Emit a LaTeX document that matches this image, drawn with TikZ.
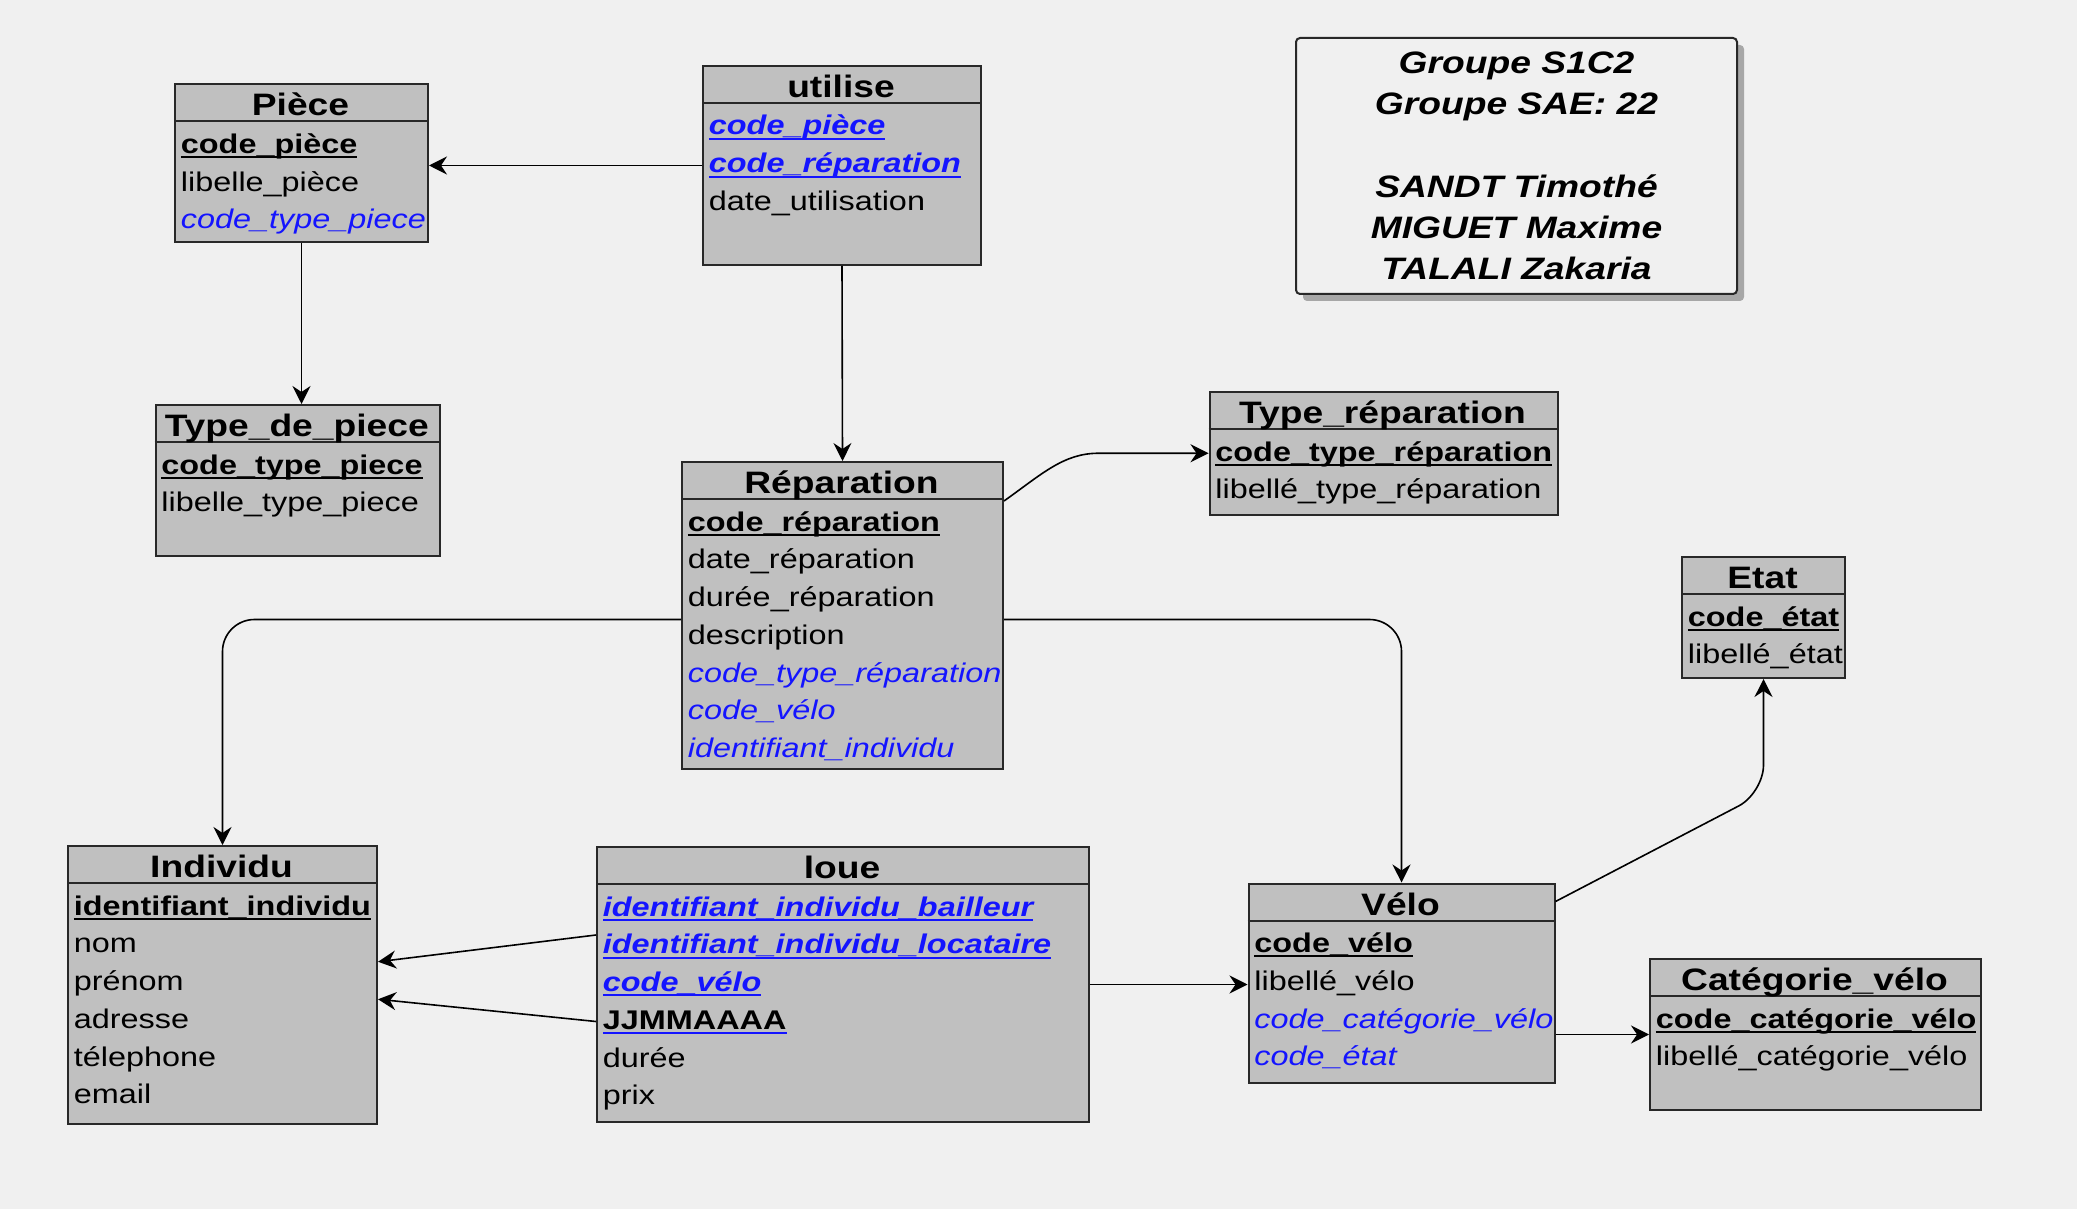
\documentclass[tikz,border=0pt]{standalone}
\usepackage{fontspec}
\setmainfont{Liberation Sans}[FakeStretch=1.2]
\usepackage{xcolor}
\usepackage{tikz}
\usetikzlibrary{arrows.meta,calc,shadows}

\definecolor{bgcol}{RGB}{240,240,240}
\definecolor{boxgray}{RGB}{192,192,192}
\definecolor{boxline}{RGB}{40,40,40}
\definecolor{fkblue}{RGB}{20,20,255}

\newcommand\keyline[1]{\sbox0{#1}\rlap{\rule[-2.4pt]{\wd0}{1pt}}\usebox0}
\newcommand\pk[1]{\keyline{\bfseries #1}}
\newcommand\fk[1]{{\color{fkblue}\itshape #1}}
\newcommand\pfk[1]{{\color{fkblue}\keyline{\bfseries\itshape #1}}}
\newcommand\pkb[1]{{\color{fkblue}\keyline{\color{black}\bfseries #1}}}

\newcommand\mcdtable[7]{%
  \node[tbl,minimum width=#4*0.5pt,minimum height=#5*0.5pt] (#1) at (#2,#3) {};
  \draw[boxline,line width=1pt] ([yshift=-19pt]#1.north west) -- ([yshift=-19pt]#1.north east);
  \node[ttl] (#1-t) at ({#2+#4/2},{#3+32.5}) {#6};
  \foreach \row [count=\rowno] in {#7}
    \node[att] (#1-\rowno) at ({#2+6.5},{#3+70+(\rowno-1)*37.75}) {\row};
}

\begin{document}
\begin{tikzpicture}[x=0.5pt,y=-0.5pt,
    tbl/.style={draw=boxline,fill=boxgray,line width=1pt,anchor=north west,inner sep=0pt},
    ttl/.style={font=\fontsize{15.5}{18}\selectfont\bfseries,inner sep=0pt,anchor=base},
    att/.style={font=\fontsize{13.5}{16}\selectfont,inner sep=0pt,anchor=base west},
    link/.style={-{Stealth[length=9pt,width=9pt,inset=3pt]},line width=0.8pt}]
  \useasboundingbox (0,0) rectangle (2077,1209);
  \fill[bgcol] (0,0) rectangle (2077,1209);

  \mcdtable{piece}{174}{83.5}{253}{158}{Pièce}{\pk{code\_pièce},libelle\_pièce,\fk{code\_type\_piece}}
  \mcdtable{utilise}{702}{65}{278}{199}{utilise}{\pfk{code\_pièce},\pfk{code\_réparation},date\_utilisation}
  \mcdtable{tdp}{154.5}{404}{284.5}{151}{Type\_de\_piece}{\pk{code\_type\_piece},libelle\_type\_piece}
  \mcdtable{rep}{681}{461}{321}{307}{Réparation}{\pk{code\_réparation},date\_réparation,durée\_réparation,description,\fk{code\_type\_réparation},\fk{code\_vélo},\fk{identifiant\_individu}}
  \mcdtable{typerep}{1208.5}{391}{348}{122.5}{Type\_réparation}{\pk{code\_type\_réparation},libellé\_type\_réparation}
  \mcdtable{etat}{1681}{556}{163}{121}{Etat}{\pk{code\_état},libellé\_état}
  \mcdtable{velo}{1247.5}{882.5}{306}{199}{Vélo}{\pk{code\_vélo},libellé\_vélo,\fk{code\_catégorie\_vélo},\fk{code\_état}}
  \mcdtable{cat}{1649}{958}{331}{151}{Catégorie\_vélo}{\pk{code\_catégorie\_vélo},libellé\_catégorie\_vélo}
  \mcdtable{ind}{67}{845}{309}{277.5}{Individu}{\pk{identifiant\_individu},nom,prénom,adresse,télephone,email}
  \mcdtable{loue}{596}{846}{492}{275}{loue}{\pfk{identifiant\_individu\_bailleur},\pfk{identifiant\_individu\_locataire},\pfk{code\_vélo},\pkb{JJMMAAAA},durée,prix}

  \node[draw=boxline,fill=bgcol,line width=1pt,rounded corners=2pt,
    minimum width=220.5pt,minimum height=128pt,align=center,
    drop shadow={shadow xshift=3.5pt,shadow yshift=-3.5pt,fill=black,opacity=0.3},
    font=\fontsize{15.5}{20.6}\selectfont\bfseries\itshape] (groupe) at (1516.5,166)
    {Groupe S1C2\\Groupe SAE: 22\\\mbox{}\\SANDT Timothé\\MIGUET Maxime\\TALALI Zakaria};

  \draw[link] (utilise.west) -- (utilise.west -| piece.east);
  \draw[link] (piece.south) -- (piece.south |- tdp.north);
  \draw[link] (utilise.south) -- (rep.north);
  \draw[link] ($(rep.north east)+(0,40)$) .. controls +(38,-27) and +(-35,0) .. ($(typerep.west)+(-110,0)$) -- (typerep.west);
  \draw[link,rounded corners=16pt] ($(rep.west)+(0,4)$) -| (ind.north);
  \draw[link,rounded corners=16pt] ($(rep.east)+(0,4)$) -| (velo.north);
  \draw[link] ($(loue.west)+(0,-49.5)$) -- ($(ind.east)+(0,-23)$);
  \draw[link] ($(loue.west)+(0,37)$) -- ($(ind.east)+(0,14.5)$);
  \draw[link] (loue.east) -- (loue.east -| velo.west);
  \draw[link] (cat.west -| velo.east) -- (cat.west);
  \draw[link,rounded corners=14pt] ($(velo.north east)+(0,19)$) -- ($(etat.south)+(0,114)$) -- (etat.south);
\end{tikzpicture}
\end{document}
